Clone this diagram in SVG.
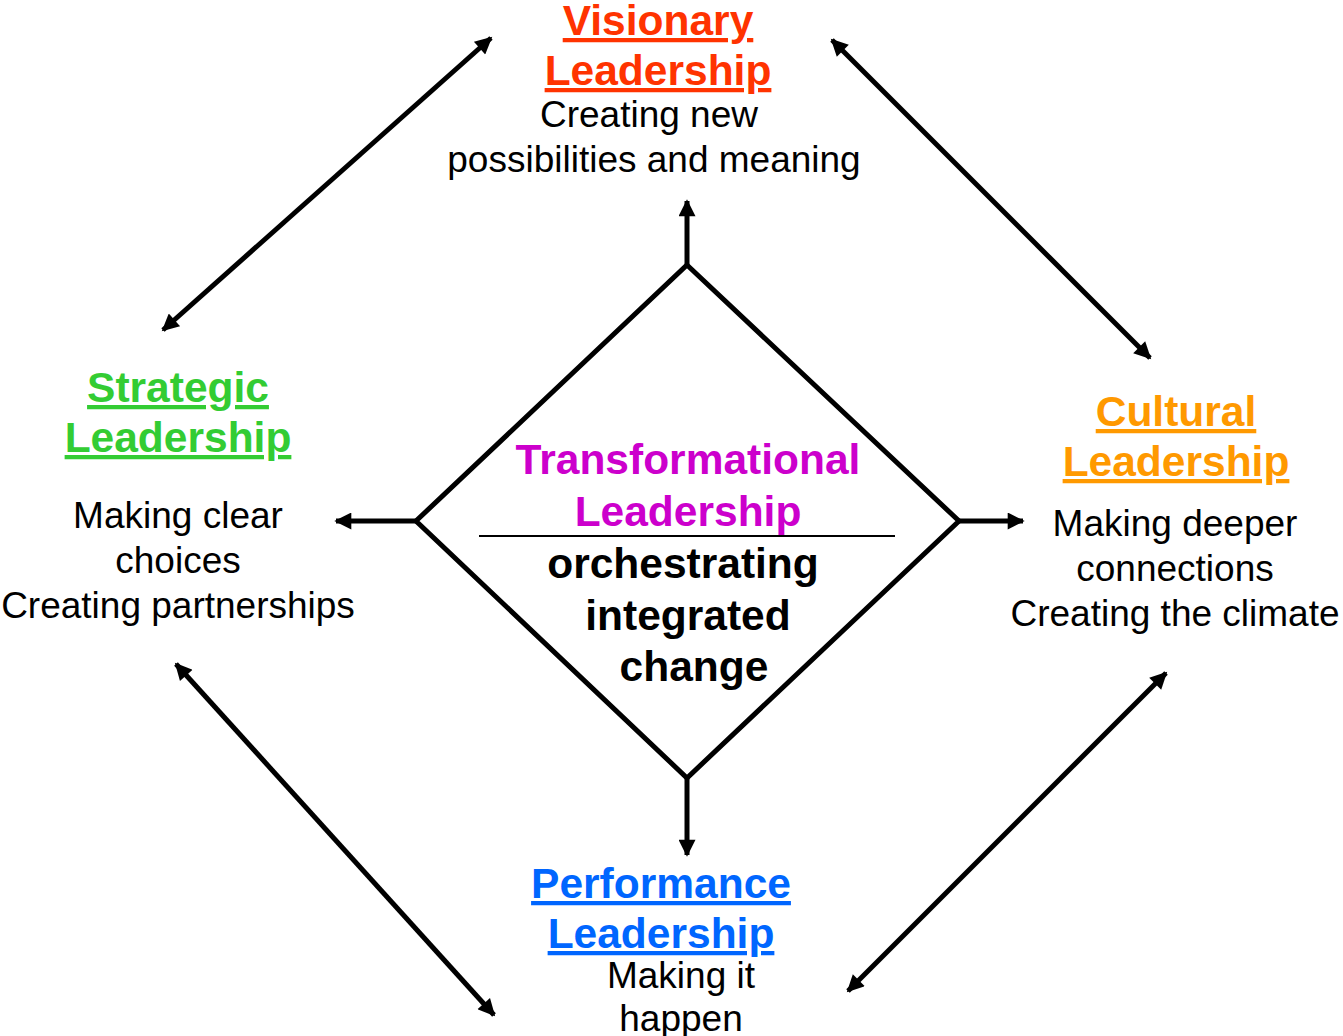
<svg xmlns="http://www.w3.org/2000/svg" width="1343" height="1036" viewBox="0 0 1343 1036">
  <style>
    text { font-family: "Liberation Sans", Arial, sans-serif; text-anchor: middle; }
    .title { font-size: 42.5px; font-weight: bold; text-decoration: underline; }
    .desc { font-size: 37px; fill: #000; }
    .core { font-size: 42.5px; font-weight: bold; }
    .conn { stroke: #000; stroke-width: 5; fill: none; }
  </style>
  <defs>
    <marker id="head" viewBox="0 0 10 10" refX="9" refY="5" markerUnits="userSpaceOnUse" markerWidth="19" markerHeight="17" orient="auto-start-reverse">
      <path d="M0,0 L10,5 L0,10 Z" fill="#000"/>
    </marker>
  </defs>

  <rect width="1343" height="1036" fill="#fff"/>

  <!-- connectors -->
  <g id="connectors">
    <line class="conn" x1="687" y1="265" x2="687" y2="201" marker-end="url(#head)"/>
    <line class="conn" x1="416" y1="521" x2="336" y2="521" marker-end="url(#head)"/>
    <line class="conn" x1="959" y1="521" x2="1023" y2="521" marker-end="url(#head)"/>
    <line class="conn" x1="687" y1="778" x2="687" y2="855" marker-end="url(#head)"/>
    <line class="conn" x1="163" y1="330" x2="491" y2="38" marker-start="url(#head)" marker-end="url(#head)"/>
    <line class="conn" x1="832" y1="40" x2="1150" y2="358" marker-start="url(#head)" marker-end="url(#head)"/>
    <line class="conn" x1="176" y1="664" x2="494" y2="1015" marker-start="url(#head)" marker-end="url(#head)"/>
    <line class="conn" x1="848" y1="991" x2="1166" y2="673" marker-start="url(#head)" marker-end="url(#head)"/>
  </g>

  <!-- centre: transformational leadership -->
  <g id="transformational">
    <polygon points="687,265 959,521 687,778 416,521" fill="none" stroke="#000" stroke-width="5" stroke-linejoin="miter"/>
    <text class="core" x="688" y="474" fill="#CC00CC">Transformational</text>
    <text class="core" x="688" y="526" fill="#CC00CC">Leadership</text>
    <line x1="479" y1="536" x2="895" y2="536" stroke="#000" stroke-width="2"/>
    <text class="core" x="683" y="578" fill="#000">orchestrating</text>
    <text class="core" x="688" y="630" fill="#000">integrated</text>
    <text class="core" x="694" y="681" fill="#000">change</text>
  </g>

  <!-- top: visionary -->
  <g id="visionary">
    <text class="title" x="658" y="35" fill="#FF3300">Visionary</text>
    <text class="title" x="658" y="85" fill="#FF3300">Leadership</text>
    <text class="desc" x="649" y="127">Creating new</text>
    <text class="desc" x="654" y="172">possibilities and meaning</text>
  </g>

  <!-- left: strategic -->
  <g id="strategic">
    <text class="title" x="178" y="402" fill="#33CC33">Strategic</text>
    <text class="title" x="178" y="452" fill="#33CC33">Leadership</text>
    <text class="desc" x="178" y="528">Making clear</text>
    <text class="desc" x="178" y="573">choices</text>
    <text class="desc" x="178" y="618">Creating partnerships</text>
  </g>

  <!-- right: cultural -->
  <g id="cultural">
    <text class="title" x="1176" y="426" fill="#FF9900">Cultural</text>
    <text class="title" x="1176" y="476" fill="#FF9900">Leadership</text>
    <text class="desc" x="1175" y="536">Making deeper</text>
    <text class="desc" x="1175" y="581">connections</text>
    <text class="desc" x="1175" y="626">Creating the climate</text>
  </g>

  <!-- bottom: performance -->
  <g id="performance">
    <text class="title" x="661" y="898" fill="#0066FF">Performance</text>
    <text class="title" x="661" y="948" fill="#0066FF">Leadership</text>
    <text class="desc" x="681" y="988">Making it</text>
    <text class="desc" x="681" y="1031">happen</text>
  </g>
</svg>
